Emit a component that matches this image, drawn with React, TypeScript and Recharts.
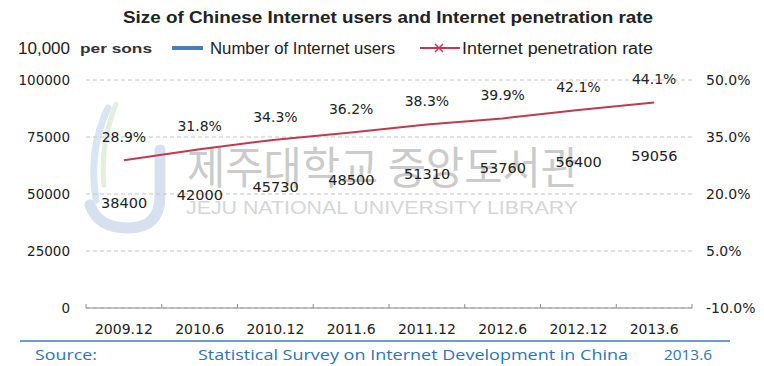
import React from 'react';
import { ComposedChart, Bar, Line, XAxis, YAxis, CartesianGrid, LabelList } from 'recharts';

if (typeof document !== 'undefined') {
  document.body.style.margin = '0';
}

const categories = ['2009.12', '2010.6', '2010.12', '2011.6', '2011.12', '2012.6', '2012.12', '2013.6'];
const users = [38400, 42000, 45730, 48500, 51310, 53760, 56400, 59056];
const penetration = [28.9, 31.8, 34.3, 36.2, 38.3, 39.9, 42.1, 44.1];
const leftTicks = [0, 25000, 50000, 75000, 100000];
const rightTicks = [-10, 5, 20, 35, 50];

const title = 'Size of Chinese Internet users and Internet penetration rate';
const unitLabel = '10,000';
const unitWord = 'per sons';
const barName = 'Number of Internet users';
const lineName = 'Internet penetration rate';
const sourceLabel = 'Source:';
const sourceText = 'Statistical Survey on Internet Development in China';
const sourceDate = '2013.6';
const wmKorean = '제주대학교 중앙도서관';
const wmEnglish = 'JEJU NATIONAL UNIVERSITY  LIBRARY';

const data = categories.map((c, i) => ({ category: c, users: users[i], rate: penetration[i] }));

const W = 764;
const H = 366;
const NUM_FONT = 'DejaVu Sans';
const TXT_FONT = 'Liberation Sans, Arial, sans-serif';
const RED = '#c23a4e';
const BLUE = '#4a7ebb';

const XTick = (props: any) => {
  const { x, y, payload, index, visibleTicksCount, width } = props;
  const bw = (width || 606) / categories.length;
  const last = index === (visibleTicksCount ?? categories.length) - 1;
  return (
    <g>
      <line x1={x - bw / 2} x2={x - bw / 2} y1={y} y2={y - 4} stroke="#8c8c8c" strokeWidth={1} />
      {last && <line x1={x + bw / 2} x2={x + bw / 2} y1={y} y2={y - 4} stroke="#8c8c8c" strokeWidth={1} />}
      <text x={x} y={y + 26} textAnchor="middle" fontFamily={NUM_FONT} fontSize={14} fill="#222">
        {payload.value}
      </text>
    </g>
  );
};

export default function App() {
  return (
    <div style={{ position: 'relative', width: W, height: H, background: '#fff', overflow: 'hidden' }}>
      <svg width={W} height={H} style={{ position: 'absolute', left: 0, top: 0 }}>
        {/* watermark logo */}
        <g opacity={0.55} fill="none" strokeLinecap="round">
          <path d="M108 108 Q88 150 96 200" stroke="#b9d3ea" strokeWidth={7} />
          <path d="M116 104 Q100 145 104 185" stroke="#cfe3bf" strokeWidth={5} />
          <path d="M160 150 L160 196 Q160 228 128 228 Q98 228 90 205" stroke="#b7c8e2" strokeWidth={11} />
        </g>
        {/* watermark text */}
        <text x={187} y={184} fontFamily="Noto Sans CJK KR" fontSize={44} fill="#cbcbcb" textLength={392} lengthAdjust="spacingAndGlyphs">
          {wmKorean}
        </text>
        <text x={186} y={214} fontFamily="Liberation Sans, Arial, sans-serif" fontSize={18} fill="#d6d6d6" textLength={392} lengthAdjust="spacingAndGlyphs">
          {wmEnglish}
        </text>
        {/* title */}
        <text x={388} y={23} textAnchor="middle" fontFamily={TXT_FONT} fontWeight="bold" fontSize={16} fill="#222" textLength={530} lengthAdjust="spacingAndGlyphs">
          {title}
        </text>
        {/* legend */}
        <text x={18} y={54} fontFamily={TXT_FONT} fontSize={16} fill="#222" textLength={52} lengthAdjust="spacingAndGlyphs">
          {unitLabel}
        </text>
        <text x={80} y={53} fontFamily={TXT_FONT} fontWeight="bold" fontSize={13} fill="#333" textLength={72} lengthAdjust="spacingAndGlyphs">
          {unitWord}
        </text>
        <rect x={172} y={46} width={31} height={4} fill={BLUE} />
        <text x={210} y={54} fontFamily={TXT_FONT} fontSize={16} fill="#222" textLength={185} lengthAdjust="spacingAndGlyphs">
          {barName}
        </text>
        <line x1={420} x2={460} y1={48} y2={48} stroke={RED} strokeWidth={2} />
        <line x1={435} x2={443} y1={44} y2={52} stroke={RED} strokeWidth={1.5} />
        <line x1={435} x2={443} y1={52} y2={44} stroke={RED} strokeWidth={1.5} />
        <text x={462} y={54} fontFamily={TXT_FONT} fontSize={16} fill="#222" textLength={191} lengthAdjust="spacingAndGlyphs">
          {lineName}
        </text>
        {/* source */}
        <line x1={20} x2={730} y1={341} y2={341} stroke="#3a7bc8" strokeWidth={1.5} />
        <text x={35} y={360} fontFamily="Open Sans, sans-serif" fontSize={15} fill="#2e74b5" textLength={62} lengthAdjust="spacingAndGlyphs">
          {sourceLabel}
        </text>
        <text x={198} y={360} fontFamily="Open Sans, sans-serif" fontSize={15} fill="#2e74b5" textLength={430} lengthAdjust="spacingAndGlyphs">
          {sourceText}
        </text>
        <text x={664} y={360} fontFamily="Open Sans, sans-serif" fontSize={15} fill="#2e74b5" textLength={48} lengthAdjust="spacingAndGlyphs">
          {sourceDate}
        </text>
      </svg>
      <div style={{ position: 'absolute', left: 0, top: 0 }}>
        <ComposedChart width={W} height={H} data={data} margin={{ top: 80, right: 10, bottom: 28, left: 16 }}>
          <CartesianGrid yAxisId="left" horizontal vertical={false} strokeDasharray="4 3" stroke="#c4c4c4" />
          <XAxis
            dataKey="category"
            xAxisId={0}
            height={30}
            tickSize={0}
            tickMargin={0}
            tickLine={false}
            axisLine={{ stroke: '#8c8c8c' }}
            interval={0}
            tick={<XTick />}
          />
          <YAxis
            yAxisId="left"
            orientation="left"
            width={70}
            domain={[0, 100000]}
            ticks={leftTicks}
            interval={0}
            tickLine={false}
            axisLine={false}
            tickSize={6}
            tickMargin={10}
            tick={{ fontFamily: NUM_FONT, fontSize: 13.5, fill: '#222' }}
          />
          <YAxis
            yAxisId="right"
            orientation="right"
            width={62}
            domain={[-10, 50]}
            ticks={rightTicks}
            interval={0}
            tickLine={false}
            axisLine={false}
            tickSize={6}
            tickMargin={8}
            tickFormatter={(v: number) => v.toFixed(1) + '%'}
            tick={{ fontFamily: NUM_FONT, fontSize: 14, fill: '#222' }}
          />
          <Bar yAxisId="left" dataKey="users" fill="none" isAnimationActive={false}>
            <LabelList dataKey="users" position="top" offset={12} fontFamily={NUM_FONT} fontSize={14.5} fill="#222" />
          </Bar>
          <Line
            yAxisId="right"
            type="linear"
            dataKey="rate"
            stroke={RED}
            strokeWidth={2}
            dot={false}
            activeDot={false}
            isAnimationActive={false}
          >
            <LabelList
              dataKey="rate"
              position="top"
              offset={18}
              fontFamily={NUM_FONT}
              fontSize={14}
              fill="#222"
              formatter={(v: any) => Number(v).toFixed(1) + '%'}
            />
          </Line>
        </ComposedChart>
      </div>
    </div>
  );
}
